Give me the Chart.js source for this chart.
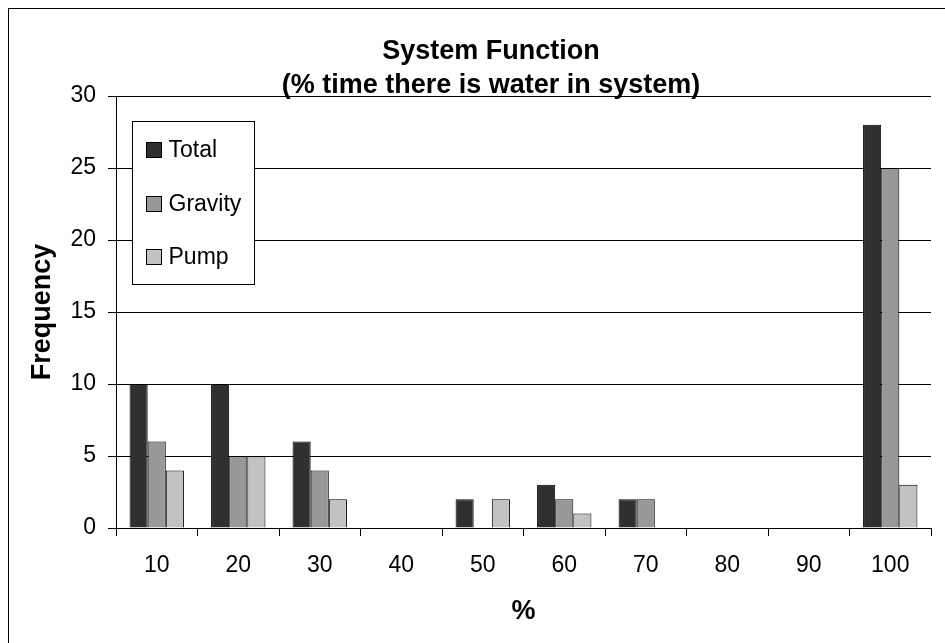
<!DOCTYPE html>
<html>
<head>
<meta charset="utf-8">
<script src="https://cdn.jsdelivr.net/npm/chart.js@4.4.0/dist/chart.umd.min.js"></script>
<style>
html,body{margin:0;padding:0;background:#fff;}
#wrap{width:945px;height:643px;position:relative;overflow:hidden;}
canvas{display:block;}
</style>
</head>
<body>
<div id="wrap"><canvas id="c" width="945" height="643"></canvas></div>
<script>
const categories = ['10', '20', '30', '40', '50', '60', '70', '80', '90', '100'];
const totalValues = [10, 10, 6, 0, 2, 3, 2, 0, 0, 28];
const gravityValues = [6, 5, 4, 0, 0, 2, 2, 0, 0, 25];
const pumpValues = [4, 5, 2, 0, 2, 1, 0, 0, 0, 3];
const yTickValues = [0, 5, 10, 15, 20, 25, 30];
const seriesNames = ['Total', 'Gravity', 'Pump'];
const titleLines = ['System Function', '(% time there is water in system)'];
const xAxisTitle = '%';
const yAxisTitle = 'Frequency';

const FONT = '"Liberation Sans", Arial, "DejaVu Sans", sans-serif';
const colors = ['#303030', '#989898', '#c2c2c2'];

const framePlugin = {
  id: 'frame',
  beforeDraw(chart) {
    const ctx = chart.ctx;
    ctx.save();
    ctx.fillStyle = '#fff';
    ctx.fillRect(0, 0, chart.width, chart.height);
    ctx.strokeStyle = '#000';
    ctx.lineWidth = 1;
    ctx.strokeRect(8.5, 8.5, chart.width + 100, chart.height + 100);
    ctx.restore();
  },
  afterDraw(chart) {
    const ctx = chart.ctx;
    const ca = chart.chartArea;
    ctx.save();
    // Title
    ctx.fillStyle = '#000';
    ctx.font = 'bold 27px ' + FONT;
    ctx.textAlign = 'center';
    ctx.textBaseline = 'alphabetic';
    ctx.fillText(titleLines[0], 491, 59);
    ctx.fillText(titleLines[1], 491, 93);

    // Legend
    const bx = Math.round(ca.left + 16) + 0.5;
    const by = Math.round(ca.top + 25) + 0.5;
    const bw = 122, bh = 163;
    ctx.fillStyle = '#fff';
    ctx.fillRect(bx, by, bw, bh);
    ctx.strokeStyle = '#000';
    ctx.lineWidth = 1;
    ctx.strokeRect(bx, by, bw, bh);
    const rowY = [142, 196, 249];
    chart.data.datasets.forEach((ds, i) => {
      const sy = Math.round(by - 121.5 + rowY[i]) + 0.5;
      const sx = Math.round(bx + 13) + 0.5;
      ctx.fillStyle = ds.backgroundColor;
      ctx.fillRect(sx, sy, 15, 15);
      ctx.strokeStyle = '#000';
      ctx.strokeRect(sx, sy, 15, 15);
      ctx.fillStyle = '#000';
      ctx.font = '23px ' + FONT;
      ctx.textAlign = 'left';
      ctx.textBaseline = 'middle';
      ctx.fillText(ds.label, sx + 22, sy + 8.5);
    });
    ctx.restore();
  }
};

new Chart(document.getElementById('c'), {
  type: 'bar',
  data: {
    labels: categories,
    datasets: [
      { label: seriesNames[0], data: totalValues, backgroundColor: colors[0] },
      { label: seriesNames[1], data: gravityValues, backgroundColor: colors[1] },
      { label: seriesNames[2], data: pumpValues, backgroundColor: colors[2] }
    ].map(d => Object.assign(d, {
      borderColor: '#000',
      borderWidth: 1,
      categoryPercentage: 0.667,
      barPercentage: 1.0
    }))
  },
  options: {
    responsive: false,
    maintainAspectRatio: false,
    devicePixelRatio: 1,
    animation: false,
    layout: { padding: { left: 0, right: 14, top: 96, bottom: 0 } },
    plugins: {
      legend: { display: false },
      title: { display: false },
      tooltip: { enabled: false }
    },
    scales: {
      x: {
        type: 'category',
        offset: true,
        grid: {
          display: true,
          offset: true,
          drawOnChartArea: false,
          drawTicks: true,
          tickLength: 8,
          color: '#000',
          lineWidth: 1
        },
        border: { display: true, color: '#000', width: 1 },
        ticks: {
          color: '#000',
          font: { family: FONT, size: 23 },
          padding: 16,
          maxRotation: 0,
          minRotation: 0,
          autoSkip: false
        },
        title: {
          display: true,
          text: xAxisTitle,
          color: '#000',
          font: { family: FONT, size: 27, weight: 'bold' },
          padding: { top: 0, bottom: 15 }
        },
        afterFit(scale) { scale.height = 115; }
      },
      y: {
        min: 0,
        max: 30,
        afterBuildTicks(scale) { scale.ticks = yTickValues.map(v => ({ value: v })); },
        grid: {
          color: '#000',
          lineWidth: 1,
          drawTicks: true,
          tickLength: 8
        },
        border: { display: true, color: '#000', width: 1 },
        ticks: {
          color: '#000',
          font: { family: FONT, size: 23 },
          padding: 12
        },
        title: {
          display: true,
          text: yAxisTitle,
          color: '#000',
          font: { family: FONT, size: 27, weight: 'bold' },
          padding: { top: 26, bottom: 0 }
        },
        afterFit(scale) { scale.width = 116; }
      }
    }
  },
  plugins: [framePlugin]
});
</script>
</body>
</html>
